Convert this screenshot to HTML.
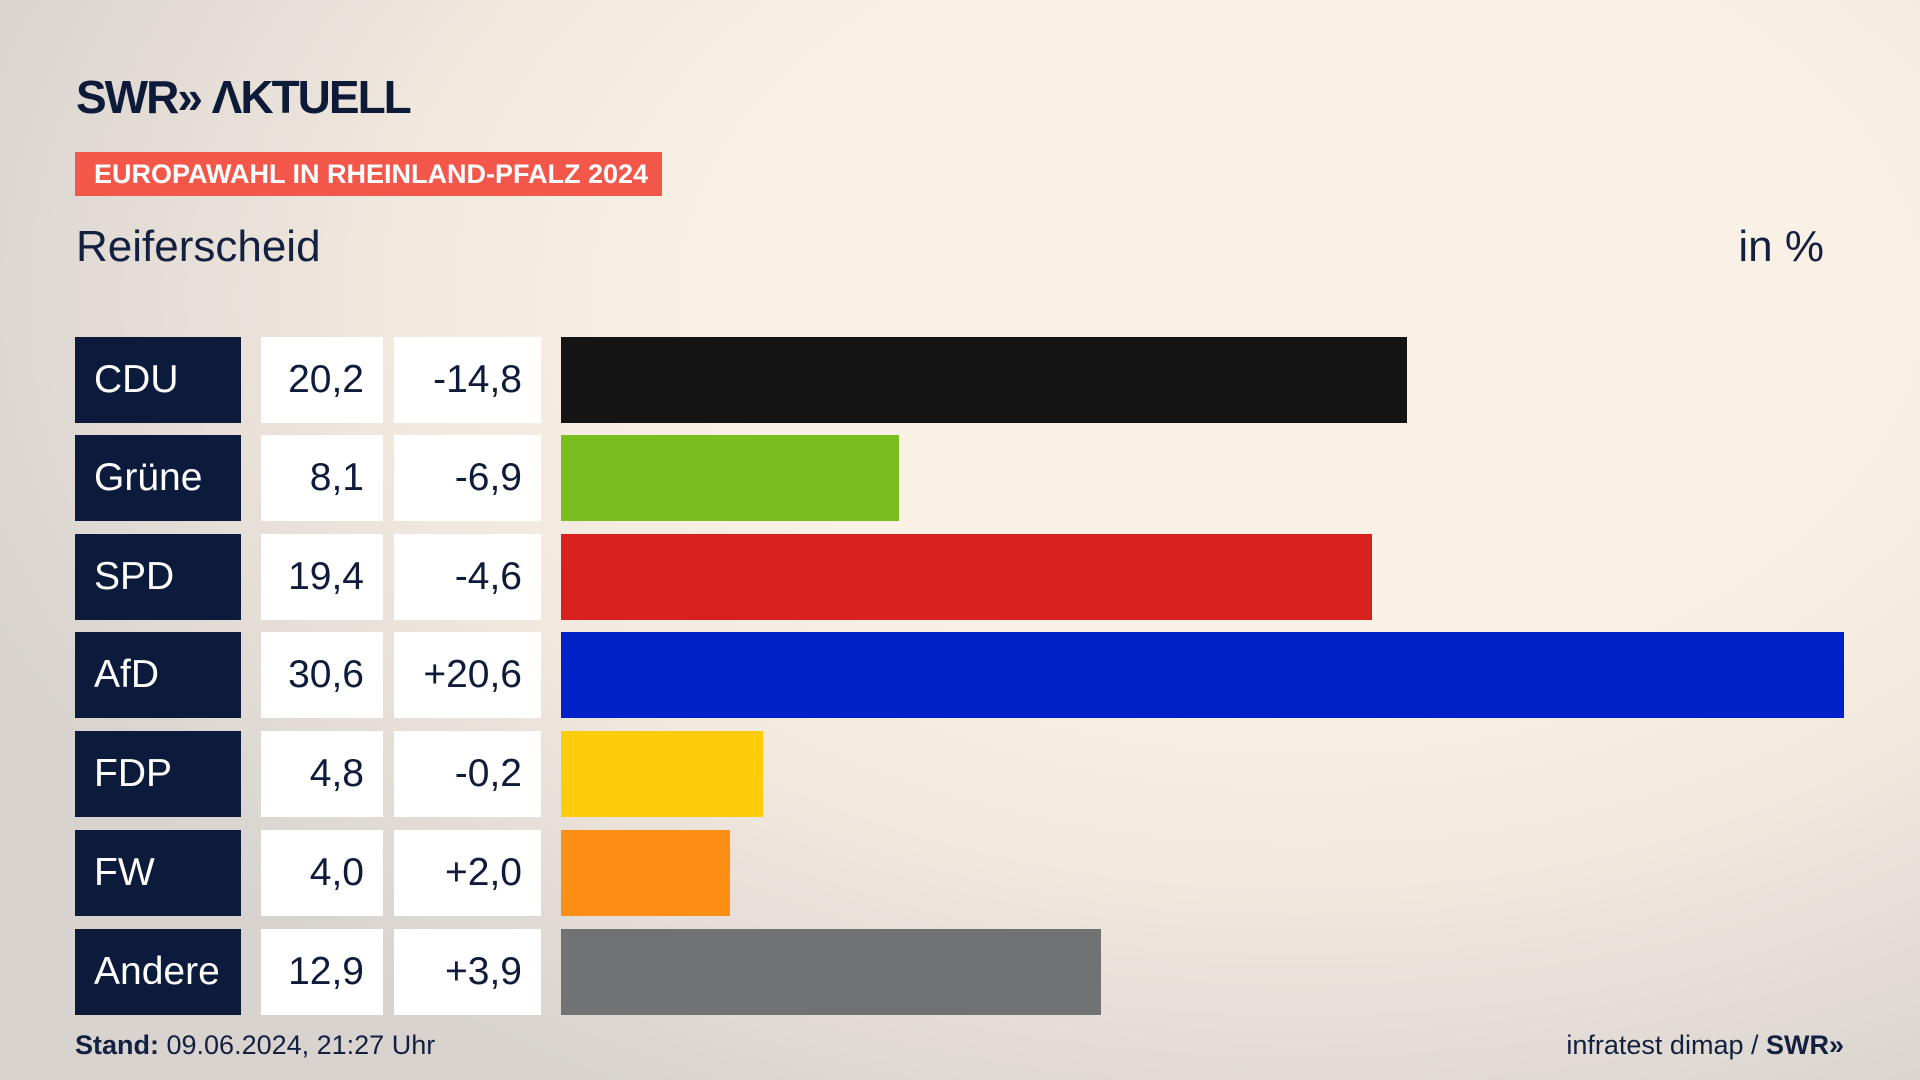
<!DOCTYPE html>
<html><head><meta charset="utf-8"><style>
*{margin:0;padding:0;box-sizing:border-box}
body{width:1920px;height:1080px;overflow:hidden;font-family:"Liberation Sans",sans-serif;
background:radial-gradient(ellipse 1400px 900px at 1300px 300px,#faf1e6 40%,#f1e8de 65%,#d8d3cf 100%);position:relative;color:#0f1b3a}
.abs{position:absolute}
.logo{left:76px;top:70px;font-size:46px;font-weight:bold;letter-spacing:-2px;color:#0d1a38}
.banner{left:75px;top:152px;width:587px;height:44px;background:#f2574a;color:#fff;font-weight:bold;font-size:27px;line-height:44px;padding-left:19px}
.title{left:76px;top:222px;font-size:44px;color:#13203f}
.unit{right:96px;top:222px;font-size:44px;color:#13203f}
.row{position:absolute;left:0;height:86px;font-size:39px;line-height:86px}
.p{position:absolute;left:75px;width:166px;height:86px;background:#0c1b3b;color:#fff;padding-left:19px}
.v{position:absolute;left:261px;width:122px;height:86px;background:#fff;text-align:right;padding-right:19px}
.c{position:absolute;left:394px;width:147px;height:86px;background:#fff;text-align:right;padding-right:19px}
.b{position:absolute;left:561px;height:86px}
.foot{top:1030px;font-size:27px;color:#13203f}
</style></head><body>
<div class="abs logo">SWR» ΛKTUELL</div>
<div class="abs banner">EUROPAWAHL IN RHEINLAND-PFALZ 2024</div>
<div class="abs title">Reiferscheid</div>
<div class="abs unit">in %</div>

<div class="row" style="top:337px"><div class="p">CDU</div><div class="v">20,2</div><div class="c">-14,8</div><div class="b" style="width:846px;background:#141414"></div></div>
<div class="row" style="top:435px"><div class="p">Grüne</div><div class="v">8,1</div><div class="c">-6,9</div><div class="b" style="width:338px;background:#79bd1e"></div></div>
<div class="row" style="top:534px"><div class="p">SPD</div><div class="v">19,4</div><div class="c">-4,6</div><div class="b" style="width:811px;background:#d8201f"></div></div>
<div class="row" style="top:632px"><div class="p">AfD</div><div class="v">30,6</div><div class="c">+20,6</div><div class="b" style="width:1283px;background:#0021c8"></div></div>
<div class="row" style="top:731px"><div class="p">FDP</div><div class="v">4,8</div><div class="c">-0,2</div><div class="b" style="width:202px;background:#fecc0a"></div></div>
<div class="row" style="top:830px"><div class="p">FW</div><div class="v">4,0</div><div class="c">+2,0</div><div class="b" style="width:169px;background:#fd8f17"></div></div>
<div class="row" style="top:929px"><div class="p">Andere</div><div class="v">12,9</div><div class="c">+3,9</div><div class="b" style="width:540px;background:#717273"></div></div>

<div class="abs foot" style="left:75px"><b>Stand:</b> 09.06.2024, 21:27 Uhr</div>
<div class="abs foot" style="right:76px">infratest dimap / <b>SWR»</b></div>
</body></html>
